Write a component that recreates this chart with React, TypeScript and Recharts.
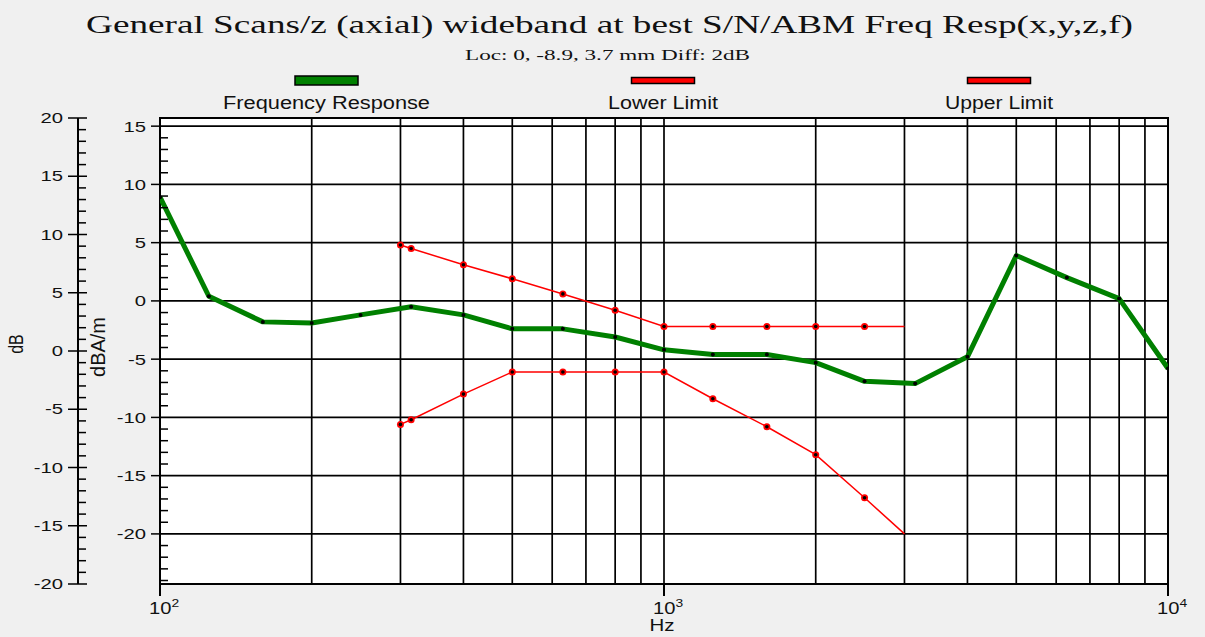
import React from "react";
import {
  ComposedChart,
  Line,
  XAxis,
  YAxis,
  ReferenceLine,
  ReferenceArea,
} from "recharts";

// values (Hz / dBA/m)
const responseFreqs = [100, 125, 160, 200, 250, 315, 400, 500, 630, 800, 1000, 1250, 1600, 2000, 2500, 3150, 4000, 5000, 6300, 8000, 10000];
const responseValues = [8.9, 0.4, -1.8, -1.9, -1.2, -0.5, -1.2, -2.4, -2.4, -3.1, -4.2, -4.6, -4.6, -5.3, -6.9, -7.1, -4.8, 3.9, 2.0, 0.2, -5.8];

const lowerFreqs = [300, 315, 400, 500, 630, 800, 1000, 1250, 1600, 2000, 2500, 3000];
const lowerValues = [-10.6, -10.2, -8.0, -6.1, -6.1, -6.1, -6.1, -8.4, -10.8, -13.2, -16.9, -20];

const upperFreqs = [300, 315, 400, 500, 630, 800, 1000, 1250, 1600, 2000, 2500, 3000];
const upperValues = [4.8, 4.5, 3.1, 1.9, 0.6, -0.8, -2.2, -2.2, -2.2, -2.2, -2.2, -2.2];

const freqTicks = [100, 1000, 10000];
const freqExponents = ["2", "3", "4"];
const freqGrid = [200, 300, 400, 500, 600, 700, 800, 900, 1000, 2000, 3000, 4000, 5000, 6000, 7000, 8000, 9000];
const levelGrid = [15, 10, 5, 0, -5, -10, -15, -20];
const innerTicks = [15, 14, 13, 12, 11, 10, 9, 8, 7, 6, 5, 4, 3, 2, 1, 0, -1, -2, -3, -4, -5, -6, -7, -8, -9, -10, -11, -12, -13, -14, -15, -16, -17, -18, -19, -20, -21, -22, -23, -24];
const outerTicks = [20, 19, 18, 17, 16, 15, 14, 13, 12, 11, 10, 9, 8, 7, 6, 5, 4, 3, 2, 1, 0, -1, -2, -3, -4, -5, -6, -7, -8, -9, -10, -11, -12, -13, -14, -15, -16, -17, -18, -19, -20];

const legendNames = ["Frequency Response", "Lower Limit", "Upper Limit"];

const toPoints = (fs: number[], vs: number[]) => fs.map((f, i) => ({ f, v: vs[i] }));
const responseData = toPoints(responseFreqs, responseValues);
const lowerData = toPoints(lowerFreqs, lowerValues);
const upperData = toPoints(upperFreqs, upperValues);

const SANS = "'Liberation Sans', Arial, sans-serif";
const SERIF = "'Liberation Serif', 'Times New Roman', serif";
const INK = "#111";

function InnerTick(props: any) {
  const { x, y, payload } = props;
  const v = payload.value;
  if (v % 5 !== 0) {
    return <line x1={x} y1={y} x2={x + 8} y2={y} stroke="#000" strokeWidth={1.5} />;
  }
  return (
    <g>
      <line x1={x - 9} y1={y} x2={x} y2={y} stroke="#000" strokeWidth={1.5} />
      <text
        transform={`translate(${x - 14},${y + 5.5}) scale(1.35,1)`}
        textAnchor="end"
        fontFamily={SANS}
        fontSize={15}
        fill={INK}
      >
        {v}
      </text>
    </g>
  );
}

function OuterTick(props: any) {
  const { x, y, payload } = props;
  const v = payload.value;
  if (v % 5 !== 0) {
    return <line x1={x} y1={y} x2={x + 8} y2={y} stroke="#000" strokeWidth={1.5} />;
  }
  return (
    <g>
      <line x1={x - 10} y1={y} x2={x + 9} y2={y} stroke="#000" strokeWidth={1.5} />
      <text
        transform={`translate(${x - 15},${y + 5}) scale(1.35,1)`}
        textAnchor="end"
        fontFamily={SANS}
        fontSize={15}
        fill={INK}
      >
        {v}
      </text>
    </g>
  );
}

function FreqTick(props: any) {
  const { x, y, payload } = props;
  const exp = freqExponents[freqTicks.indexOf(payload.value)];
  return (
    <g>
      <line x1={x} y1={y} x2={x} y2={y + 12} stroke="#000" strokeWidth={2} />
      <text
        transform={`translate(${x - 11},${y + 30}) scale(1.26,1)`}
        fontFamily={SANS}
        fontSize={16}
        fill={INK}
      >
        10
        <tspan fontSize={11} dy={-7}>
          {exp}
        </tspan>
      </text>
    </g>
  );
}

function ResponseDot(props: any) {
  const { cx, cy, index } = props;
  return <circle key={`r-${index}`} cx={cx} cy={cy} r={2} fill="#000" />;
}

function LimitDot(props: any) {
  const { cx, cy, index } = props;
  if (index === lowerFreqs.length - 1) return <g key={`l-${index}`} />;
  return (
    <g key={`l-${index}`}>
      <circle cx={cx} cy={cy} r={3.5} fill="#ff0000" />
      <circle cx={cx} cy={cy} r={1.8} fill="#000" />
    </g>
  );
}

export default function App() {
  return (
    <div
      style={{
        position: "absolute",
        left: 0,
        top: 0,
        width: 1205,
        height: 637,
        background: "#f0f0f0",
      }}
    >
      <ComposedChart
        width={1205}
        height={637}
        margin={{ top: 118, right: 37, bottom: 0, left: 0 }}
      >
        <XAxis
          dataKey="f"
          type="number"
          scale="log"
          domain={[100, 10000]}
          ticks={freqTicks}
          interval={0}
          allowDataOverflow
          height={53}
          tickSize={0}
          tickMargin={0}
          tickLine={false}
          axisLine={false}
          tick={(p: any) => <FreqTick {...p} />}
        />
        <YAxis
          yAxisId="inner"
          type="number"
          domain={[-24.3, 15.7]}
          ticks={innerTicks}
          interval={0}
          allowDataOverflow
          width={82}
          tickSize={0}
          tickMargin={0}
          tickLine={false}
          axisLine={false}
          tick={(p: any) => <InnerTick {...p} />}
        />
        <YAxis
          yAxisId="outer"
          type="number"
          domain={[-20, 20]}
          ticks={outerTicks}
          interval={0}
          allowDataOverflow
          width={78}
          tickSize={0}
          tickMargin={0}
          tickLine={false}
          axisLine={{ stroke: "#000", strokeWidth: 2 }}
          tick={(p: any) => <OuterTick {...p} />}
        />
        <ReferenceArea
          yAxisId="inner"
          x1={100}
          x2={10000}
          y1={-24.3}
          y2={15.7}
          fill="#ffffff"
          fillOpacity={1}
          stroke="#000"
          strokeWidth={2}
        />
        {freqGrid.map((f) => (
          <ReferenceLine key={`gx-${f}`} yAxisId="inner" x={f} stroke="#000" strokeWidth={1.7} />
        ))}
        {levelGrid.map((v) => (
          <ReferenceLine key={`gy-${v}`} yAxisId="inner" y={v} stroke="#000" strokeWidth={1.7} />
        ))}
        <Line
          yAxisId="inner"
          data={upperData}
          dataKey="v"
          stroke="#ff0000"
          strokeWidth={1.5}
          dot={(p: any) => <LimitDot {...p} />}
          isAnimationActive={false}
        />
        <Line
          yAxisId="inner"
          data={lowerData}
          dataKey="v"
          stroke="#ff0000"
          strokeWidth={1.5}
          dot={(p: any) => <LimitDot {...p} />}
          isAnimationActive={false}
        />
        <Line
          yAxisId="inner"
          data={responseData}
          dataKey="v"
          stroke="#008000"
          strokeWidth={5}
          strokeLinejoin="round"
          dot={(p: any) => <ResponseDot {...p} />}
          isAnimationActive={false}
        />
      </ComposedChart>

      <svg
        width={1205}
        height={637}
        style={{ position: "absolute", left: 0, top: 0, pointerEvents: "none" }}
      >
        <text x={609.5} y={33} textAnchor="middle" fontFamily={SERIF} fontSize={26} fill="#111" textLength={1047} lengthAdjust="spacingAndGlyphs">
          General Scans/z (axial) wideband at best S/N/ABM Freq Resp(x,y,z,f)
        </text>
        <text x={607.5} y={60} textAnchor="middle" fontFamily={SERIF} fontSize={14} fill="#111" textLength={285} lengthAdjust="spacingAndGlyphs">
          Loc: 0, -8.9, 3.7 mm Diff: 2dB
        </text>

        <rect x={295} y={76} width={63} height={9} fill="#008000" stroke="#000" strokeWidth={1.5} />
        <rect x={631.5} y={77.5} width={63} height={6} fill="#ff0000" stroke="#000" strokeWidth={1.5} />
        <rect x={967.5} y={77.5} width={63} height={6} fill="#ff0000" stroke="#000" strokeWidth={1.5} />
        <text x={326.5} y={109} textAnchor="middle" fontFamily={SANS} fontSize={18} fill={INK} textLength={207} lengthAdjust="spacingAndGlyphs">
          {legendNames[0]}
        </text>
        <text x={663} y={109} textAnchor="middle" fontFamily={SANS} fontSize={18} fill={INK} textLength={110} lengthAdjust="spacingAndGlyphs">
          {legendNames[1]}
        </text>
        <text x={999} y={109} textAnchor="middle" fontFamily={SANS} fontSize={18} fill={INK} textLength={108} lengthAdjust="spacingAndGlyphs">
          {legendNames[2]}
        </text>

        <text transform="translate(23,344) scale(1.3,1) rotate(-90)" textAnchor="middle" fontFamily={SANS} fontSize={16} fill={INK}>
          dB
        </text>
        <text transform="translate(105,347) scale(1.3,1) rotate(-90)" textAnchor="middle" fontFamily={SANS} fontSize={16} fill={INK} textLength={60} lengthAdjust="spacingAndGlyphs">
          dBA/m
        </text>
        <text x={662} y={631} textAnchor="middle" fontFamily={SANS} fontSize={17} fill={INK} textLength={25} lengthAdjust="spacingAndGlyphs">
          Hz
        </text>
      </svg>
    </div>
  );
}
